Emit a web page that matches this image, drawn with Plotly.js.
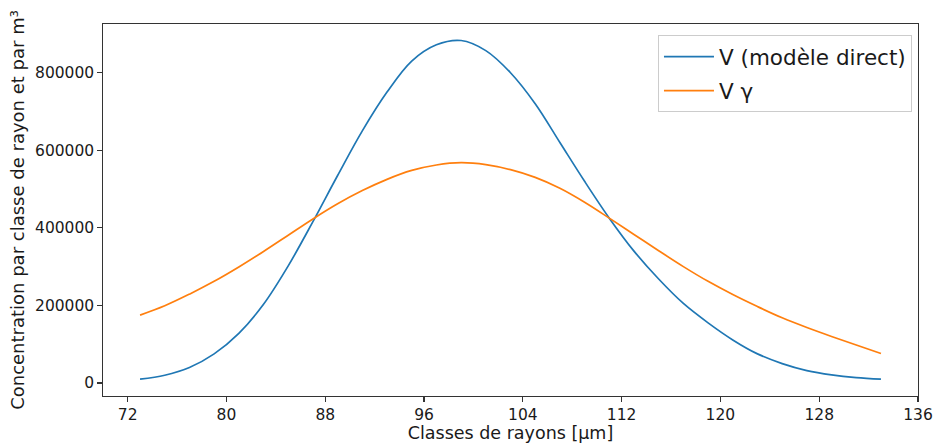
<!DOCTYPE html>
<html>
<head>
<meta charset="utf-8">
<script src="https://cdn.plot.ly/plotly-3.0.1.min.js"></script>
<style>html,body{margin:0;padding:0;background:#fff;}#chart{width:940px;height:443px;}</style>
</head>
<body>
<div id="chart"></div>
<script>
const radii = [73,75,77,79,81,83,85,87,89,91,93,95,97,99,101,103,105,107,109,111,113,115,117,119,121,123,125,127,129,131,133];
const vDirect = [10000,20000,40000,75000,128000,203000,302000,416000,535000,650000,750000,830000,872000,883000,857000,800000,720000,620000,520000,425000,340000,268000,205000,155000,111000,75000,50000,32000,21000,14000,10000];
const vGamma = [175000,199000,229000,262000,299000,339000,381000,423000,462000,496000,525000,548000,562000,568000,563000,550000,530000,502000,466000,425000,383000,341000,300000,262000,228000,197000,168000,143000,120000,98000,76000];
const seriesNames = ["V (modèle direct)", "V γ"];
const xTicks = [72,80,88,96,104,112,120,128,136];
const yTicks = [0,200000,400000,600000,800000];

const font = "DejaVu Sans, sans-serif";
const traces = [
  {x: radii, y: vDirect, name: seriesNames[0], legendgroup: "a", mode: "lines", line: {color: "#1f77b4", width: 1.7, shape: "spline", smoothing: 1}},
  {x: radii, y: vGamma, name: seriesNames[1], legendgroup: "b", mode: "lines", line: {color: "#ff7f0e", width: 1.7, shape: "spline", smoothing: 1}}
];
const axisCommon = {
  showgrid: false, zeroline: false, showline: true, mirror: true,
  linecolor: "#333", linewidth: 1.2, ticks: "outside", ticklen: 4.5, tickwidth: 1.2, tickcolor: "#333",
  tickfont: {family: font, size: 15.5, color: "#1a1a1a"}
};
const layout = {
  width: 940, height: 443,
  margin: {l: 103, r: 22, t: 24, b: 47},
  paper_bgcolor: "#fff", plot_bgcolor: "#fff",
  font: {family: font, color: "#1a1a1a"},
  xaxis: Object.assign({}, axisCommon, {
    range: [70, 136], tickvals: xTicks, ticktext: xTicks.map(String),
    title: {text: "Classes de rayons [µm]", font: {family: font, size: 17.5, color: "#1a1a1a"}, standoff: 4}
  }),
  yaxis: Object.assign({}, axisCommon, {
    range: [-33600, 925600], tickvals: yTicks, ticktext: yTicks.map(String),
    title: {text: "Concentration par classe de rayon et par m³", font: {family: font, size: 18, color: "#1a1a1a"}, standoff: 5}
  }),
  showlegend: true,
  legend: {
    x: 0.9926, y: 0.970, xanchor: "right", yanchor: "top",
    bgcolor: "rgba(255,255,255,0.8)", bordercolor: "#ccc", borderwidth: 1,
    tracegroupgap: 3, traceorder: "grouped", itemwidth: 50,
    font: {family: font, size: 21.5, color: "#1a1a1a"}
  }
};
Plotly.newPlot("chart", traces, layout, {displayModeBar: false, staticPlot: true});
</script>
</body>
</html>
